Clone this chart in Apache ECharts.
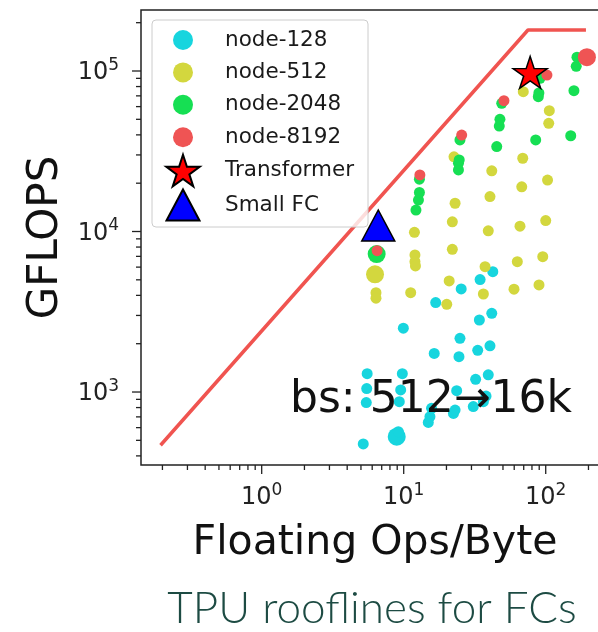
<!DOCTYPE html>
<html>
<head>
<meta charset="utf-8">
<script src="https://cdn.jsdelivr.net/npm/echarts@6/dist/echarts.min.js"></script>
<style>
  html, body { margin: 0; padding: 0; background: #fff; }
  #main { width: 598px; height: 632px; }
</style>
</head>
<body>
<div id="main"></div>
<script>
// data: [ops per byte, GFLOPS]
var node128 = [
  [5.19, 475], [5.45, 860], [5.49, 1050], [5.53, 1300],
  [8.93, 527], [9.16, 566], [9.31, 871], [9.52, 1030], [9.78, 1300], [9.94, 2500],
  [14.9, 646], [15.3, 702], [15.7, 792], [16.4, 1740], [16.8, 3610],
  [22.4, 736], [23.0, 772], [23.6, 1020], [24.5, 1660], [24.9, 2160], [25.4, 4390],
  [30.9, 811], [32.1, 1200], [33.2, 1820], [34.1, 2810], [34.5, 5020],
  [36.4, 871], [38.0, 944], [39.4, 1280], [40.5, 1940], [41.7, 3090], [42.4, 5620]
];
var node512 = [
  [6.28, 5410], [6.38, 4160], [6.38, 3840],
  [11.2, 4160], [11.9, 9880], [12.0, 7140], [12.0, 6490], [12.1, 6100],
  [20.1, 3520], [20.9, 4920], [22.0, 7750], [22.0, 11500], [23.0, 15000], [22.6, 29200],
  [36.4, 4080], [37.4, 6040], [39.4, 10100], [40.5, 16500], [41.7, 23900],
  [59.8, 4370], [63.1, 6490], [65.9, 10800], [67.8, 19000], [68.9, 28600], [69.5, 74300],
  [89.7, 4650], [95.3, 6970], [100, 11700], [103, 20900], [105, 47200], [106, 56600]
];
var node2048 = [
  [6.45, 7240],
  [12.2, 13600], [12.7, 15700], [12.9, 17500], [12.9, 21200],
  [24.3, 24200], [24.3, 26600], [24.6, 27900], [24.9, 37200],
  [45.2, 33800], [47.1, 45400], [47.6, 50000], [49.0, 62900],
  [85.0, 37200], [88.7, 69200], [89.5, 73000], [91.2, 90000],
  [150, 39500], [158, 75400], [164, 107000], [166, 122000]
];
var node8192 = [[6.5, 7590], [13.0, 22500], [25.6, 39900], [50.8, 65300], [102, 94400], [195, 122000]];
var transformer = [[77.7, 98000]];
var smallFC = [[6.62, 10900]];
var roofline = [[0.194, 466], [75, 180000], [192, 180000]];

// which points are drawn as the larger blobs
var bigDots = { 'node-128': [4], 'node-512': [0], 'node-2048': [0], 'node-8192': [5] };

// axis range and ticks
var xMin = 0.1413, xMax = 279;
var yMin = 351, yMax = 239900;
var xMajor = [1, 10, 100];
var xMinor = [0.2, 0.3, 0.4, 0.5, 0.6, 0.7, 0.8, 0.9, 2, 3, 4, 5, 6, 7, 8, 9,
              20, 30, 40, 50, 60, 70, 80, 90, 200];
var yMajor = [1000, 10000, 100000];
var yMinor = [400, 500, 600, 700, 800, 900, 2000, 3000, 4000, 5000, 6000, 7000, 8000, 9000,
              20000, 30000, 40000, 50000, 60000, 70000, 80000, 90000, 200000];

var FONT = 'DejaVu Sans';
var circleIcon = 'path://M0,0M54,32M7,16a10,10 0 1,0 20,0a10,10 0 1,0 -20,0Z';
var starIcon = 'path://M0,0M54,32M17,0.15L20.93,12.24L33.64,12.24L23.36,19.72L27.29,31.81L17,24.33L6.71,31.81L10.64,19.72L0.36,12.24L13.07,12.24Z';
var triIcon = 'path://M0,0M54,32M17,0.5L33.5,31.5L0.5,31.5Z';
var starPath = 'path://M17,0.15L20.93,12.24L33.64,12.24L23.36,19.72L27.29,31.81L17,24.33L6.71,31.81L10.64,19.72L0.36,12.24L13.07,12.24Z';

var chart = echarts.init(document.getElementById('main'));

function dots(name, data, color) {
  return {
    name: name,
    type: 'scatter',
    data: data,
    symbol: 'circle',
    symbolSize: function (val, params) {
      return bigDots[name].indexOf(params.dataIndex) >= 0 ? 18 : 11;
    },
    itemStyle: { color: color, opacity: 1 }
  };
}

function tickSeries(values, axis, len) {
  return {
    type: 'custom',
    silent: true,
    z: 6,
    data: values.map(function (v) { return axis === 'x' ? [v, yMin] : [xMin, v]; }),
    renderItem: function (params, api) {
      var p = api.coord([api.value(0), api.value(1)]);
      var shape = axis === 'x'
        ? { x1: p[0], y1: p[1], x2: p[0], y2: p[1] + len }
        : { x1: p[0], y1: p[1], x2: p[0] - len, y2: p[1] };
      return { type: 'line', shape: shape, style: { stroke: '#222', lineWidth: 1.3 } };
    }
  };
}

function powLabel(v) {
  return '{b|10}{s|' + Math.round(Math.log10(v)) + '}';
}
var labelRich = {
  b: { fontSize: 24, fontFamily: FONT, color: '#222', lineHeight: 28, verticalAlign: 'bottom' },
  s: { fontSize: 17, fontFamily: FONT, color: '#222', lineHeight: 28, verticalAlign: 'top', padding: [0, 0, 12, 0] }
};

var option = {
  animation: false,
  grid: {
    left: 141, top: 10, width: 468, height: 455,
    outerBoundsMode: 'none',
    show: true, borderColor: '#222', borderWidth: 1.5, backgroundColor: 'transparent'
  },
  legend: {
    orient: 'vertical',
    left: 152, top: 20,
    padding: [4, 14, 5, 13],
    itemWidth: 54, itemHeight: 32, itemGap: 0.4,
    backgroundColor: 'rgba(255,255,255,0.8)',
    borderColor: '#cccccc', borderWidth: 1, borderRadius: 4,
    textStyle: { fontFamily: FONT, fontSize: 21.5, color: '#1a1a1a' },
    data: [
      { name: 'node-128', icon: circleIcon },
      { name: 'node-512', icon: circleIcon },
      { name: 'node-2048', icon: circleIcon },
      { name: 'node-8192', icon: circleIcon },
      { name: 'Transformer', icon: starIcon },
      { name: 'Small FC', icon: triIcon }
    ]
  },
  xAxis: {
    type: 'log', min: xMin, max: xMax,
    name: 'Floating Ops/Byte', nameLocation: 'middle', nameGap: 58,
    nameTextStyle: { fontFamily: FONT, fontSize: 41, color: '#111' },
    axisLine: { show: false }, axisTick: { show: false }, splitLine: { show: false },
    axisLabel: { margin: 17, showMinLabel: false, showMaxLabel: false, formatter: powLabel, rich: labelRich }
  },
  yAxis: {
    type: 'log', min: yMin, max: yMax,
    name: 'GFLOPS', nameLocation: 'middle', nameGap: 74,
    nameTextStyle: { fontFamily: FONT, fontSize: 42, color: '#111' },
    axisLine: { show: false }, axisTick: { show: false }, splitLine: { show: false },
    axisLabel: { margin: 22, showMinLabel: false, showMaxLabel: false, formatter: powLabel, rich: labelRich }
  },
  series: [
    {
      name: 'roofline', type: 'line', data: roofline, symbol: 'none',
      lineStyle: { color: '#f05450', width: 3.5 }, z: 1
    },
    dots('node-128', node128, '#17d5de'),
    dots('node-512', node512, '#d3d73e'),
    dots('node-2048', node2048, '#16df53'),
    dots('node-8192', node8192, '#ef5454'),
    {
      name: 'Transformer', type: 'scatter', data: transformer,
      symbol: starPath, symbolSize: [34, 32],
      itemStyle: { color: '#ff0000', borderColor: '#000', borderWidth: 1.5, opacity: 1 }
    },
    {
      name: 'Small FC', type: 'scatter', data: smallFC,
      symbol: 'triangle', symbolSize: [33, 31],
      itemStyle: { color: '#0000ff', borderColor: '#000', borderWidth: 1.5, opacity: 1 }
    },
    tickSeries(xMajor, 'x', 9),
    tickSeries(xMinor, 'x', 5),
    tickSeries(yMajor, 'y', 9),
    tickSeries(yMinor, 'y', 5)
  ],
  graphic: [
    {
      type: 'text', x: 431, y: 401, z: 100,
      style: { text: 'bs: 512\u219216k', fontFamily: FONT, fontSize: 44, fill: '#111', align: 'center', verticalAlign: 'middle' }
    },
    {
      type: 'text', x: 372, y: 609, z: 100,
      style: { text: 'TPU rooflines for FCs', fontFamily: 'Lato', fontWeight: 300, fontSize: 44, fill: '#1d4b43', align: 'center', verticalAlign: 'middle' }
    }
  ]
};

chart.setOption(option);
</script>
</body>
</html>
